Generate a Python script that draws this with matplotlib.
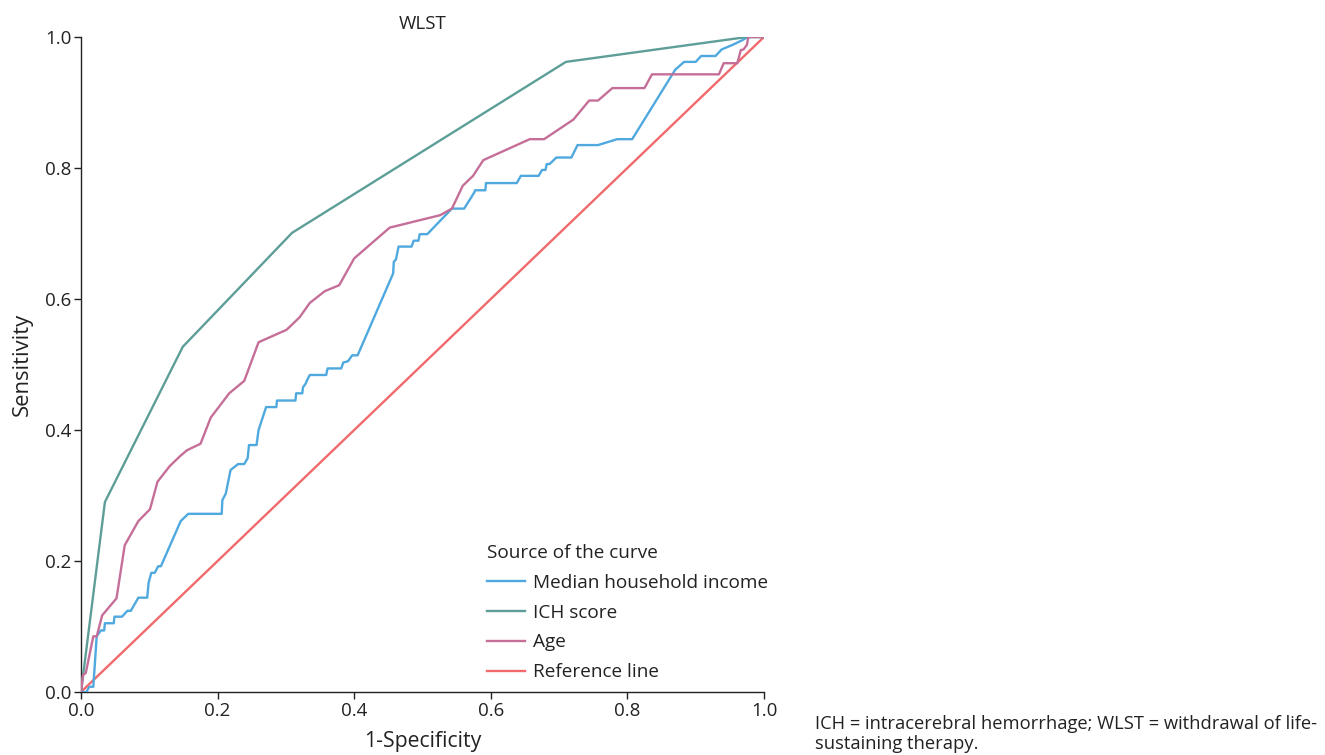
import matplotlib
matplotlib.use("Agg")
import matplotlib.pyplot as plt

plt.rcParams['font.family'] = ['Open Sans', 'DejaVu Sans']

# ---- data ----
income_fpr = [0.0, 0.008, 0.012, 0.018, 0.023, 0.029, 0.034, 0.035, 0.048, 0.049, 0.060, 0.068,
              0.073, 0.084, 0.097, 0.099, 0.103, 0.108, 0.113, 0.117, 0.146, 0.157, 0.206,
              0.207, 0.212, 0.219, 0.230, 0.239, 0.244, 0.245, 0.246, 0.257, 0.260, 0.271,
              0.286, 0.287, 0.314, 0.315, 0.324, 0.325, 0.329, 0.331, 0.335, 0.359, 0.361,
              0.381, 0.384, 0.391, 0.397, 0.405, 0.457, 0.458, 0.461, 0.465, 0.484, 0.487,
              0.494, 0.496, 0.507, 0.543, 0.561, 0.576, 0.577, 0.592, 0.593, 0.638, 0.644,
              0.670, 0.675, 0.680, 0.682, 0.686, 0.696, 0.718, 0.727, 0.757, 0.785, 0.807,
              0.870, 0.883, 0.900, 0.908, 0.929, 0.938, 0.954, 0.968, 0.976, 1.0]
income_tpr = [0.0, 0.0, 0.008, 0.008, 0.085, 0.094, 0.094, 0.105, 0.105, 0.115, 0.115, 0.124,
              0.124, 0.144, 0.144, 0.167, 0.182, 0.182, 0.192, 0.192, 0.261, 0.272, 0.272,
              0.293, 0.303, 0.339, 0.348, 0.348, 0.357, 0.367, 0.377, 0.377, 0.400, 0.435,
              0.435, 0.445, 0.445, 0.456, 0.456, 0.465, 0.471, 0.476, 0.484, 0.484, 0.494,
              0.494, 0.503, 0.505, 0.514, 0.514, 0.639, 0.657, 0.660, 0.680, 0.680, 0.689,
              0.689, 0.699, 0.699, 0.738, 0.738, 0.763, 0.766, 0.766, 0.777, 0.777, 0.788,
              0.788, 0.797, 0.797, 0.806, 0.806, 0.816, 0.816, 0.835, 0.835, 0.844, 0.844,
              0.950, 0.962, 0.962, 0.971, 0.971, 0.981, 0.988, 0.995, 1.0, 1.0]

ich_fpr = [0.0, 0.035, 0.149, 0.309, 0.710, 0.975, 1.0]
ich_tpr = [0.0, 0.290, 0.527, 0.701, 0.962, 1.0, 1.0]

age_fpr = [0.0, 0.003, 0.007, 0.018, 0.023, 0.031, 0.052, 0.064, 0.084, 0.101, 0.112, 0.130,
           0.145, 0.155, 0.175, 0.190, 0.217, 0.239, 0.260, 0.301, 0.320, 0.335, 0.357,
           0.378, 0.400, 0.452, 0.487, 0.526, 0.543, 0.549, 0.559, 0.574, 0.589, 0.657,
           0.678, 0.721, 0.744, 0.757, 0.778, 0.825, 0.836, 0.934, 0.941, 0.961, 0.966,
           0.970, 0.975, 0.977, 1.0]
age_tpr = [0.0, 0.026, 0.029, 0.085, 0.085, 0.117, 0.143, 0.224, 0.261, 0.279, 0.321, 0.345,
           0.360, 0.369, 0.379, 0.419, 0.456, 0.475, 0.534, 0.553, 0.572, 0.594, 0.612,
           0.621, 0.662, 0.709, 0.718, 0.728, 0.738, 0.751, 0.773, 0.788, 0.812, 0.844,
           0.844, 0.874, 0.903, 0.903, 0.922, 0.922, 0.943, 0.943, 0.960, 0.960, 0.980,
           0.981, 0.988, 1.0, 1.0]

ref_x = [0.0, 1.0]
ref_y = [0.0, 1.0]

labels = ["Median household income", "ICH score", "Age", "Reference line"]
colors = ["#4FA9DF", "#5E9E98", "#C56F98", "#F06A6C"]
ticks = [0.0, 0.2, 0.4, 0.6, 0.8, 1.0]
tick_labels = ["0.0", "0.2", "0.4", "0.6", "0.8", "1.0"]
caption_lines = ["ICH = intracerebral hemorrhage; WLST = withdrawal of life-",
                 "sustaining therapy."]

# ---- figure ----
fig = plt.figure(figsize=(13.25, 7.55), dpi=100)
ax = fig.add_axes([81 / 1325, 63 / 755, 683 / 1325, 655 / 755])

lw = 1.7
ax.plot(income_fpr, income_tpr, color=colors[0], lw=lw, label=labels[0], zorder=3)
ax.plot(ich_fpr, ich_tpr, color=colors[1], lw=lw, label=labels[1], zorder=3)
ax.plot(age_fpr, age_tpr, color=colors[2], lw=lw, label=labels[2], zorder=3)
ax.plot(ref_x, ref_y, color=colors[3], lw=lw, label=labels[3], zorder=2)

ax.set_xlim(0, 1)
ax.set_ylim(0, 1)
ax.set_xticks(ticks)
ax.set_xticklabels(tick_labels)
ax.set_yticks(ticks)
ax.set_yticklabels(tick_labels)
for s in ["top", "right"]:
    ax.spines[s].set_visible(False)
for s in ["left", "bottom"]:
    ax.spines[s].set_color("#222222")
    ax.spines[s].set_linewidth(1.0)
ax.tick_params(axis="both", direction="out", length=5, width=1.0, color="#222222",
               labelsize=13.5, labelcolor="#222222", pad=2)

ax.set_xlabel("1-Specificity", fontsize=15.3, color="#222222", labelpad=8)
ax.set_ylabel("Sensitivity", fontsize=15.8, color="#222222", labelpad=9)
ax.set_title("WLST", fontsize=13.5, color="#222222", pad=6)

leg = ax.legend(loc="upper left", bbox_to_anchor=(487 / 1325, 1 - 544 / 755),
                bbox_transform=fig.transFigure, frameon=False, fontsize=13.7,
                title="Source of the curve", title_fontsize=13.7,
                handlelength=2.0, handletextpad=0.42, labelspacing=0.62,
                borderpad=0, borderaxespad=0)
leg._legend_box.align = "left"
for t in leg.get_texts():
    t.set_color("#222222")
leg.get_title().set_color("#222222")

fig.text(815 / 1325, 1 - 724 / 755, caption_lines[0],
         fontsize=13.2, color="#222222", va="center", ha="left")
fig.text(815 / 1325, 1 - 744 / 755, caption_lines[1],
         fontsize=13.2, color="#222222", va="center", ha="left")

fig.savefig("out.png", dpi=100, facecolor="white")
